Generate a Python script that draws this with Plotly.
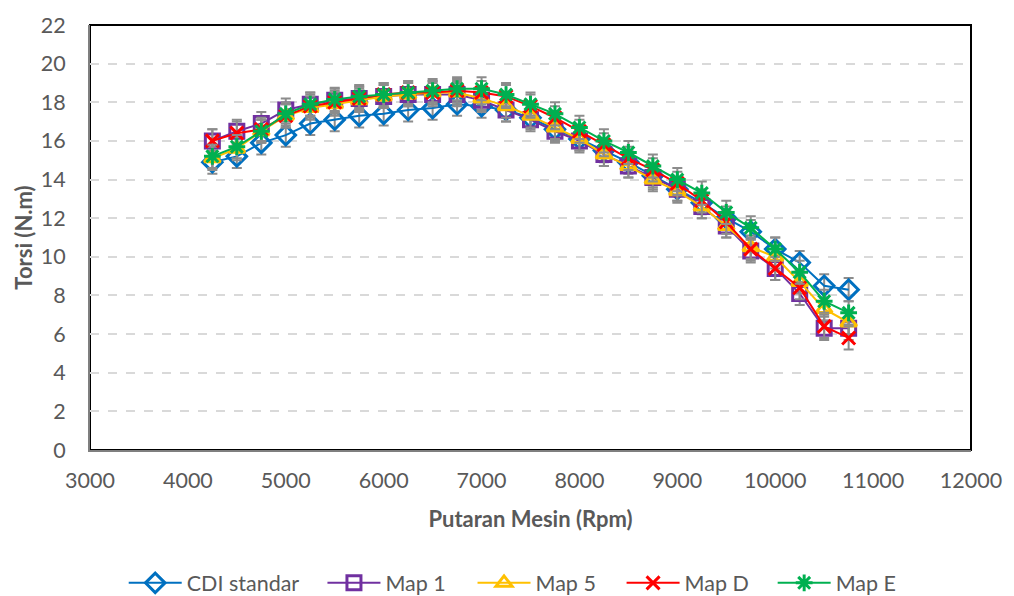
import plotly.graph_objects as go

rpm = [4250, 4500, 4750, 5000, 5250, 5500, 5750, 6000, 6250, 6500, 6750, 7000, 7250,
       7500, 7750, 8000, 8250, 8500, 8750, 9000, 9250, 9500, 9750, 10000, 10250, 10500, 10750]

cdi_standar = [14.9, 15.2, 15.9, 16.3, 16.9, 17.1, 17.3, 17.4, 17.6, 17.7, 17.9, 17.8, 17.6,
               17.2, 16.6, 16.1, 15.5, 14.9, 14.2, 13.5, 12.8, 12.0, 11.3, 10.4, 9.7, 8.5, 8.3]
map_1 = [16.0, 16.5, 16.9, 17.6, 17.9, 18.1, 18.2, 18.3, 18.4, 18.4, 18.4, 18.1, 17.6,
         17.1, 16.5, 16.0, 15.3, 14.7, 14.1, 13.5, 12.6, 11.6, 10.3, 9.4, 8.1, 6.3, 6.3]
map_5 = [15.1, 15.6, 16.5, 17.3, 17.7, 17.9, 18.1, 18.3, 18.4, 18.5, 18.5, 18.2, 17.8,
         17.3, 16.7, 16.1, 15.3, 14.7, 14.0, 13.4, 12.6, 11.6, 10.5, 10.0, 8.7, 7.3, 6.6]
map_d = [16.0, 16.4, 16.6, 17.3, 17.8, 18.0, 18.2, 18.4, 18.5, 18.5, 18.6, 18.5, 18.3,
         17.8, 17.2, 16.5, 15.8, 15.1, 14.5, 13.8, 12.9, 11.8, 10.4, 9.4, 8.4, 6.4, 5.8]
map_e = [15.2, 15.7, 16.5, 17.4, 17.9, 18.15, 18.3, 18.4, 18.5, 18.6, 18.7, 18.7, 18.4,
         17.9, 17.4, 16.7, 16.0, 15.4, 14.7, 14.0, 13.3, 12.3, 11.5, 10.4, 9.2, 7.7, 7.1]

error_value = 0.6

x_ticks = [3000, 4000, 5000, 6000, 7000, 8000, 9000, 10000, 11000, 12000]
y_ticks = [0, 2, 4, 6, 8, 10, 12, 14, 16, 18, 20, 22]

series = [
    ("CDI standar", cdi_standar, "#0070C0", "diamond-open", 15),
    ("Map 1", map_1, "#7030A0", "square-open", 14),
    ("Map 5", map_5, "#FFC000", "triangle-up-open", 14),
    ("Map D", map_d, "#FF0000", "x-thin-open", 13),
    ("Map E", map_e, "#00B050", "asterisk-open", 14),
]

# legend entry left positions (container fraction)
legend_x = [0.122, 0.318, 0.466, 0.613, 0.762]

font_family = "Lato, 'Open Sans', sans-serif"
text_color = "#595959"
font_size = 21.5

fig = go.Figure()
legend_layout = {}
for i, (name, vals, color, symbol, size) in enumerate(series):
    lg = "legend" if i == 0 else f"legend{i + 1}"
    fig.add_trace(go.Scatter(
        x=rpm, y=vals, name=name, mode="lines+markers",
        line=dict(color=color, width=2),
        marker=dict(symbol=symbol, size=size, color=color,
                    line=dict(color=color, width=3)),
        error_y=dict(type="constant", value=error_value, color="#8C8C8C",
                     thickness=2, width=5),
        legend=lg,
    ))
    legend_layout[lg] = dict(
        orientation="h", xref="container", yref="container",
        x=legend_x[i], xanchor="left", y=0.022, yanchor="middle",
        font=dict(size=font_size, color=text_color, family=font_family),
        itemwidth=53, bgcolor="rgba(0,0,0,0)",
    )

fig.add_shape(type="rect", xref="paper", yref="paper", x0=0, y0=0, x1=1, y1=1,
              line=dict(color="#000000", width=2), layer="below")

fig.update_layout(
    width=1014, height=596,
    margin=dict(l=90, r=34, t=22, b=146),
    paper_bgcolor="white", plot_bgcolor="white",
    font=dict(family=font_family, color=text_color, size=font_size),
    showlegend=True,
    xaxis=dict(range=[3000, 12000], tickvals=x_ticks, ticktext=[str(v) for v in x_ticks],
               showgrid=False, zeroline=False, showline=True, linecolor="#7F7F7F",
               linewidth=2, ticks="", ticklabelstandoff=10,
               title=dict(text="<b>Putaran Mesin (Rpm)</b>", font=dict(size=22, color=text_color),
                          standoff=20)),
    yaxis=dict(range=[0, 22], tickvals=y_ticks, ticktext=[str(v) for v in y_ticks],
               showgrid=True, gridcolor="#D9D9D9", griddash="dash", gridwidth=1.5,
               zeroline=False, showline=True, linecolor="#7F7F7F", linewidth=2,
               ticks="", ticklabelstandoff=18,
               title=dict(text="<b>Torsi (N.m)</b>", font=dict(size=22, color=text_color),
                          standoff=2)),
    **legend_layout,
)

fig.write_html("out.html")
